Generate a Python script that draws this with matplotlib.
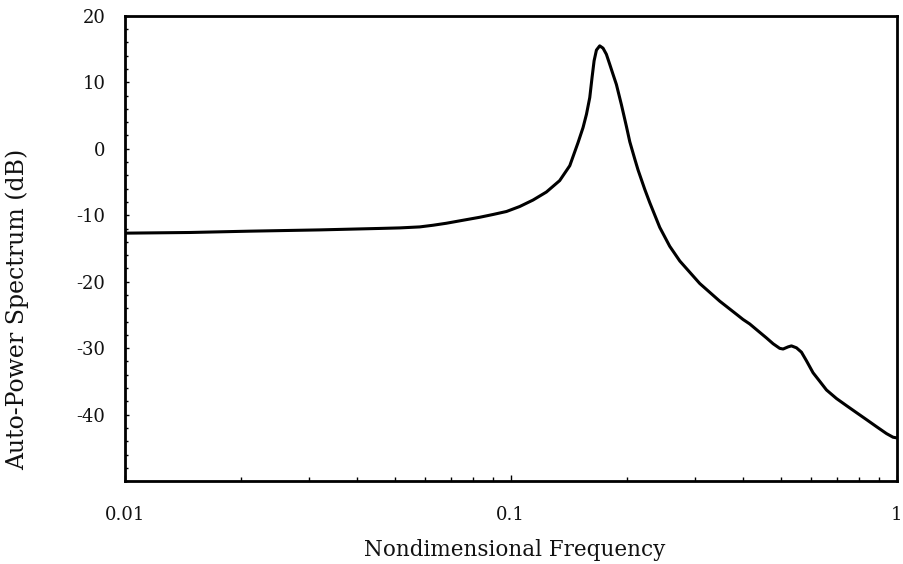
import matplotlib
matplotlib.use("Agg")
import matplotlib.pyplot as plt
from matplotlib.ticker import MultipleLocator, NullFormatter

# Auto-power spectrum vs nondimensional frequency
freq = [0.0100, 0.01474, 0.0211, 0.032, 0.0458, 0.0516, 0.0581, 0.0629,
        0.0681, 0.0752, 0.0831, 0.0900, 0.0975, 0.1055, 0.1142, 0.1237,
        0.1339, 0.1422, 0.1494, 0.1539, 0.1571, 0.1602, 0.1624, 0.1644,
        0.1667, 0.1700, 0.1734, 0.1769, 0.1805, 0.1841, 0.1878, 0.1935,
        0.1994, 0.2034, 0.2095, 0.2137, 0.2224, 0.2291, 0.2432, 0.2581,
        0.2741, 0.3087, 0.3478, 0.3874, 0.3998, 0.4160, 0.4372, 0.4596,
        0.4783, 0.4975, 0.5076, 0.5229, 0.5336, 0.5498, 0.5664, 0.5835,
        0.6069, 0.6315, 0.6575, 0.6980, 0.7409, 0.7863, 0.8347, 0.8860,
        0.9404, 0.9780, 1.0]
power_db = [-12.70, -12.60, -12.40, -12.21, -11.99, -11.91, -11.76, -11.51,
            -11.21, -10.76, -10.31, -9.89, -9.44, -8.69, -7.72, -6.51,
            -4.79, -2.55, 0.93, 3.18, 5.20, 7.70, 10.71, 13.23,
            14.84, 15.48, 15.13, 14.21, 12.69, 11.17, 9.66, 6.62,
            3.33, 1.05, -1.53, -3.20, -6.11, -8.10, -11.83, -14.67,
            -16.89, -20.27, -22.93, -25.06, -25.69, -26.36, -27.41, -28.46,
            -29.34, -30.03, -30.13, -29.81, -29.66, -29.95, -30.61, -31.90,
            -33.70, -34.98, -36.29, -37.58, -38.65, -39.70, -40.75, -41.81,
            -42.85, -43.40, -43.50]

y_ticks = [-40, -30, -20, -10, 0, 10, 20]
x_ticks = [0.01, 0.1, 1]
x_tick_labels = ["0.01", "0.1", "1"]

plt.rcParams["font.family"] = ["DejaVu Serif"]

fig = plt.figure(figsize=(9.04, 5.64), dpi=100)
ax = fig.add_axes([0.138, 0.147, 0.854, 0.825])

ax.plot(freq, power_db, color="black", linewidth=2.2,
        solid_capstyle="round", solid_joinstyle="round")

ax.set_xscale("log")
ax.set_xlim(0.01, 1)
ax.set_ylim(-50, 20)

ax.set_yticks(y_ticks)
ax.set_yticklabels([str(v) for v in y_ticks])
ax.yaxis.set_minor_locator(MultipleLocator(2))
ax.set_xticks(x_ticks)
ax.set_xticklabels(x_tick_labels)
ax.xaxis.set_minor_formatter(NullFormatter())

ax.tick_params(axis="both", which="both", direction="in", color="black",
               width=1.0, labelsize=13, labelcolor="#111111")
ax.tick_params(axis="y", which="major", length=3, pad=14)
ax.tick_params(axis="y", which="minor", length=2.5)
ax.tick_params(axis="x", which="major", length=4, pad=18)
ax.tick_params(axis="x", which="minor", length=3)
ax.tick_params(top=False, right=False, which="both")

for side in ax.spines.values():
    side.set_linewidth(2.0)
    side.set_color("black")

ax.set_xlabel("Nondimensional Frequency", fontsize=15.5, color="#111111")
ax.set_ylabel("Auto-Power Spectrum (dB)", fontsize=17, color="#111111")
ax.xaxis.set_label_coords(0.505, -0.125)
ax.yaxis.set_label_coords(-0.124, 0.37)

fig.savefig("out.png", dpi=100, facecolor="white")
